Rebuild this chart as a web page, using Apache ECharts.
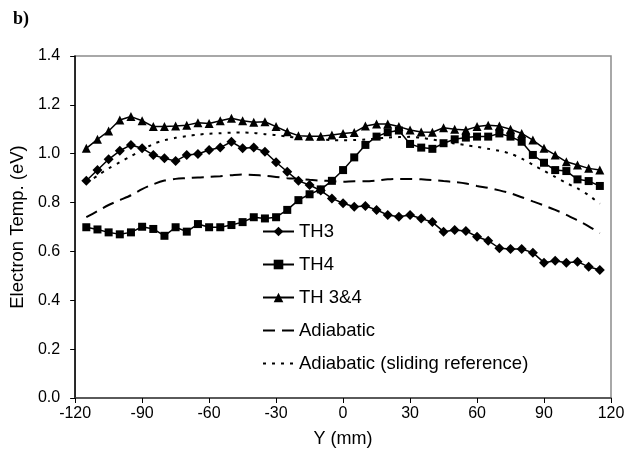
<!DOCTYPE html>
<html>
<head>
<meta charset="utf-8">
<script src="https://cdn.jsdelivr.net/npm/echarts@6/dist/echarts.min.js"></script>
<style>
html,body{margin:0;padding:0;background:#fff;}
#c{width:640px;height:456px;}
</style>
</head>
<body>
<div id="c"></div>
<script>
var positions = [-115,-110,-105,-100,-95,-90,-85,-80,-75,-70,-65,-60,-55,-50,-45,-40,-35,-30,-25,-20,-15,-10,-5,0,5,10,15,20,25,30,35,40,45,50,55,60,65,70,75,80,85,90,95,100,105,110,115];
var th3 = [0.889,0.933,0.977,1.012,1.036,1.022,0.995,0.981,0.970,0.995,0.999,1.015,1.025,1.049,1.022,1.025,1.008,0.965,0.926,0.889,0.872,0.849,0.817,0.797,0.783,0.786,0.770,0.749,0.742,0.749,0.735,0.720,0.681,0.688,0.684,0.660,0.644,0.613,0.610,0.610,0.595,0.554,0.562,0.554,0.558,0.537,0.524];
var th4 = [0.699,0.690,0.678,0.670,0.678,0.701,0.692,0.664,0.699,0.681,0.712,0.699,0.699,0.708,0.720,0.740,0.735,0.740,0.770,0.810,0.834,0.854,0.889,0.933,0.985,1.036,1.070,1.088,1.095,1.040,1.025,1.020,1.043,1.059,1.066,1.070,1.070,1.083,1.070,1.049,0.995,0.963,0.933,0.929,0.895,0.888,0.868];
var th34 = [1.022,1.059,1.093,1.138,1.152,1.135,1.111,1.111,1.113,1.117,1.127,1.124,1.135,1.145,1.135,1.129,1.131,1.111,1.090,1.074,1.072,1.072,1.077,1.083,1.087,1.113,1.122,1.122,1.111,1.097,1.089,1.088,1.106,1.100,1.097,1.111,1.117,1.113,1.100,1.083,1.056,1.022,0.995,0.967,0.954,0.940,0.933];
var adiabatic = [0.740,0.765,0.790,0.810,0.830,0.855,0.875,0.890,0.897,0.900,0.903,0.905,0.908,0.912,0.915,0.913,0.910,0.905,0.900,0.897,0.893,0.890,0.888,0.885,0.887,0.887,0.890,0.895,0.897,0.897,0.895,0.892,0.888,0.884,0.878,0.868,0.860,0.850,0.838,0.822,0.805,0.788,0.770,0.750,0.727,0.703,0.675];
var sliding = [0.880,0.910,0.940,0.965,0.990,1.015,1.040,1.055,1.065,1.072,1.078,1.082,1.084,1.086,1.087,1.085,1.080,1.076,1.070,1.065,1.062,1.058,1.056,1.055,1.056,1.058,1.062,1.066,1.068,1.069,1.065,1.058,1.050,1.042,1.035,1.028,1.020,1.012,1.000,0.980,0.955,0.930,0.905,0.880,0.858,0.830,0.795];
var seriesNames = ['TH3','TH4','TH 3&4','Adiabatic','Adiabatic (sliding reference)'];

function pairs(vals){ return positions.map(function(x,i){ return [x, vals[i]]; }); }

var FONT = 'Liberation Sans, Arial, sans-serif';
var chart = echarts.init(document.getElementById('c'), null, {renderer:'canvas'});
var markerLine = {color:'#000', width:1.5};
chart.setOption({
  animation:false,
  backgroundColor:'#fff',
  textStyle:{fontFamily:FONT},
  title:{text:'b)', left:8, top:5, textStyle:{fontFamily:'Liberation Serif, Times New Roman, serif', fontWeight:'bold', fontSize:18, color:'#000'}},
  grid:{left:72, right:29, top:56, bottom:58, show:true, borderColor:'#8c8c8c', borderWidth:1.5},
  legend:{
    orient:'vertical', left:257, top:217, itemWidth:31, itemHeight:12, itemGap:14,
    textStyle:{fontFamily:FONT, fontSize:18.5, color:'#000'},
    data:[
      {name:seriesNames[0]},
      {name:seriesNames[1]},
      {name:seriesNames[2]},
      {name:seriesNames[3], itemStyle:{opacity:0}},
      {name:seriesNames[4], itemStyle:{opacity:0}}
    ]
  },
  xAxis:{
    type:'value', min:-120, max:120, interval:30,
    name:'Y (mm)', nameLocation:'middle', nameGap:32,
    nameTextStyle:{fontFamily:FONT, fontSize:18, color:'#000'},
    axisLine:{onZero:false, lineStyle:{color:'#404040', width:1.5}},
    axisTick:{show:true, inside:false, length:5, lineStyle:{color:'#000'}},
    axisLabel:{fontFamily:FONT, fontSize:16, color:'#000', margin:8},
    splitLine:{show:false}
  },
  yAxis:{
    type:'value', min:0, max:1.4, interval:0.2,
    name:'Electron Temp. (eV)', nameLocation:'middle', nameGap:46,
    nameTextStyle:{fontFamily:FONT, fontSize:18.5, color:'#000'},
    axisLine:{show:true, onZero:false, lineStyle:{color:'#000', width:1.5}},
    axisTick:{show:true, inside:false, length:5, lineStyle:{color:'#000'}},
    axisLabel:{fontFamily:FONT, fontSize:16, color:'#000', margin:15, formatter:function(v){return v.toFixed(1);}},
    splitLine:{show:false}
  },
  series:[
    {name:seriesNames[0], type:'line', data:pairs(th3), symbol:'diamond', symbolSize:10, lineStyle:markerLine, itemStyle:{color:'#000'}, z:5},
    {name:seriesNames[1], type:'line', data:pairs(th4), symbol:'rect', symbolSize:8, lineStyle:markerLine, itemStyle:{color:'#000'}, z:5},
    {name:seriesNames[2], type:'line', data:pairs(th34), symbol:'triangle', symbolSize:9, lineStyle:markerLine, itemStyle:{color:'#000'}, z:5},
    {name:seriesNames[3], type:'line', data:pairs(adiabatic), symbol:'none', smooth:0.3, lineStyle:{color:'#000', width:2, type:[12,7]}, itemStyle:{color:'#000'}},
    {name:seriesNames[4], type:'line', data:pairs(sliding), symbol:'none', smooth:0.3, lineStyle:{color:'#000', width:2, type:[3,6]}, itemStyle:{color:'#000'}}
  ]
});
</script>
</body>
</html>
